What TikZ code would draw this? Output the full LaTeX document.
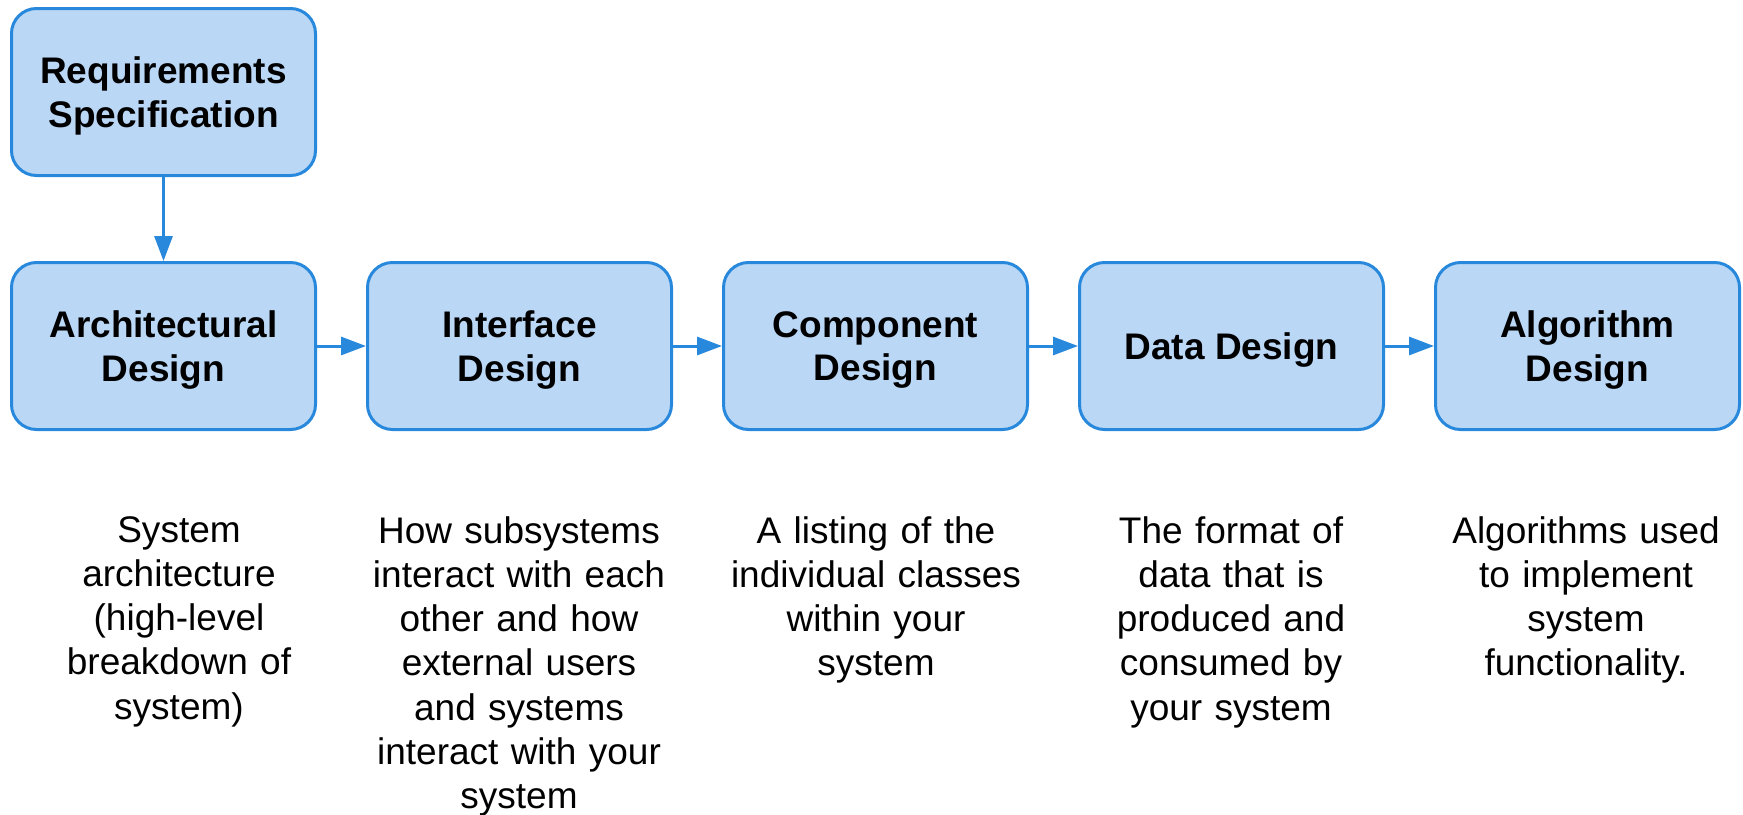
\documentclass[tikz,border=0pt]{standalone}
\usepackage{fontspec}
\setmainfont{Liberation Sans}
\usetikzlibrary{positioning,arrows.meta}
\definecolor{boxline}{RGB}{40,136,220}
\definecolor{boxfill}{RGB}{186,215,246}
\begin{document}
\begin{tikzpicture}[
                    x=0.5pt, y=-0.5pt,
                    stage/.style={rectangle, rounded corners=12.5pt, draw=boxline, fill=boxfill,
                                  line width=1.5pt, minimum width=152pt, minimum height=83.5pt,
                                  text depth=0pt, align=center,
                                  font=\fontsize{18.5pt}{21.7pt}\selectfont\bfseries},
                    note/.style={text width=170pt, align=center, anchor=north, inner sep=0pt,
                                 font=\fontsize{18.5pt}{22.1pt}\selectfont},
                    flow/.style={draw=boxline, line width=1.5pt, -{Triangle[length=12.5pt, width=9pt]}}
                ]
                \useasboundingbox (0,0) rectangle (1743,814);
                % stages
                \node[stage] (req) at (163.5,92) {Requirements\\Specification};
                \node[stage, below=42pt of req] (arch) {Architectural\\Design};
                \node[stage, right=24.5pt of arch] (iface) {Interface\\Design};
                \node[stage, right=24.5pt of iface] (comp) {Component\\Design};
                \node[stage, right=24.5pt of comp] (data) {Data Design};
                \node[stage, right=24.5pt of data] (algo) {Algorithm\\Design};
                % connectors
                \draw[flow] (req) -- (arch);
                \draw[flow] (arch) -- (iface);
                \draw[flow] (iface) -- (comp);
                \draw[flow] (comp) -- (data);
                \draw[flow] (data) -- (algo);
                % notes
                \node[note] (archnote) at (179,516) {System\\architecture\\(high-level\\breakdown of\\system)};
                \node[note] (ifacenote) at (519,516) {How subsystems\\interact with each\\other and how\\external users\\and systems\\interact with your\\system};
                \node[note] (compnote) at (876,516) {A listing of the\\individual classes\\within your\\system};
                \node[note] (datanote) at (1231,516) {The format of\\data that is\\produced and\\consumed by\\your system};
                \node[note] (algonote) at (1586,516) {Algorithms used\\to implement\\system\\functionality.};
\end{tikzpicture}
\end{document}
